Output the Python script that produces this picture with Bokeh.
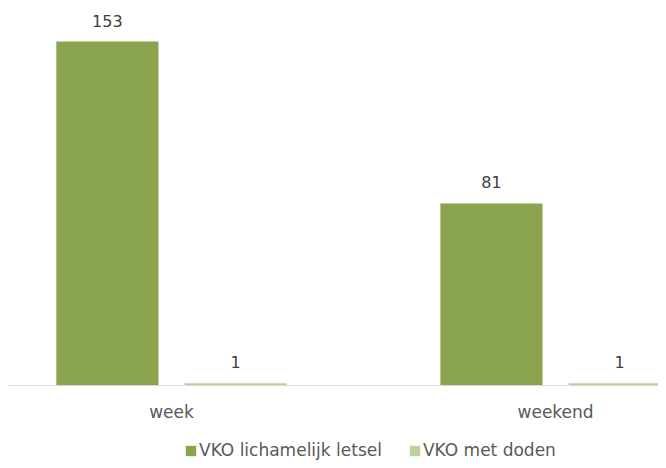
from bokeh.plotting import figure
from bokeh.models import Range1d, FixedTicker, ColumnDataSource, Legend, LegendItem, LabelSet
from bokeh.core.properties import value
from bokeh.embed import file_html
from bokeh.resources import INLINE

categories = ["week", "weekend"]
letsel = [153, 81]
doden = [1, 1]
series_names = ["VKO lichamelijk letsel", "VKO met doden"]
colors = ["#8BA54F", "#BDD19B"]

FONT = "DejaVu Sans"

p = figure(width=658, height=460, frame_width=650, frame_height=452,
           output_backend="svg", toolbar_location=None,
           x_range=Range1d(-0.4245, 1.268), y_range=Range1d(-33.36, 167.7),
           min_border_left=8, min_border_right=0, min_border_top=8, min_border_bottom=0)
p.outline_line_color = None
p.xgrid.visible = False
p.ygrid.visible = False
p.yaxis.visible = False

xs = list(range(len(categories)))
offset = 0.167
bw = 0.266
src1 = ColumnDataSource(dict(x=[x - offset for x in xs], top=letsel, lab=[str(v) for v in letsel]))
src2 = ColumnDataSource(dict(x=[x + offset for x in xs], top=doden, lab=[str(v) for v in doden]))

r1 = p.vbar(x="x", top="top", width=bw, source=src1, fill_color=colors[0], line_color=None)
r2 = p.vbar(x="x", top="top", width=bw, source=src2, fill_color=colors[1], line_color=None)

for s in (src1, src2):
    p.add_layout(LabelSet(x="x", y="top", text="lab", source=s, text_align="center",
                          text_baseline="alphabetic", y_offset=15, text_font=value(FONT),
                          text_font_size=value("16px"), text_color="#404040"))

ax = p.xaxis[0]
ax.fixed_location = 0
ax.ticker = FixedTicker(ticks=xs)
ax.major_label_overrides = {i: c for i, c in enumerate(categories)}
ax.major_tick_line_color = None
ax.minor_tick_line_color = None
ax.axis_line_color = "#D9D9D9"
ax.axis_line_width = 1
ax.major_label_standoff = 10
ax.major_label_text_font = FONT
ax.major_label_text_font_size = "17px"
ax.major_label_text_color = "#595959"

legend = Legend(items=[LegendItem(label=series_names[0], renderers=[r1]),
                       LegendItem(label=series_names[1], renderers=[r2])],
                orientation="horizontal", location=(176, 0),
                label_text_font=FONT, label_text_font_size="17px", label_text_color="#595959",
                glyph_width=13, glyph_height=13, spacing=26, label_standoff=2,
                border_line_color=None, background_fill_alpha=0, padding=0, margin=0)
p.add_layout(legend, "center")

open("out.html", "w").write(file_html(p, INLINE))
